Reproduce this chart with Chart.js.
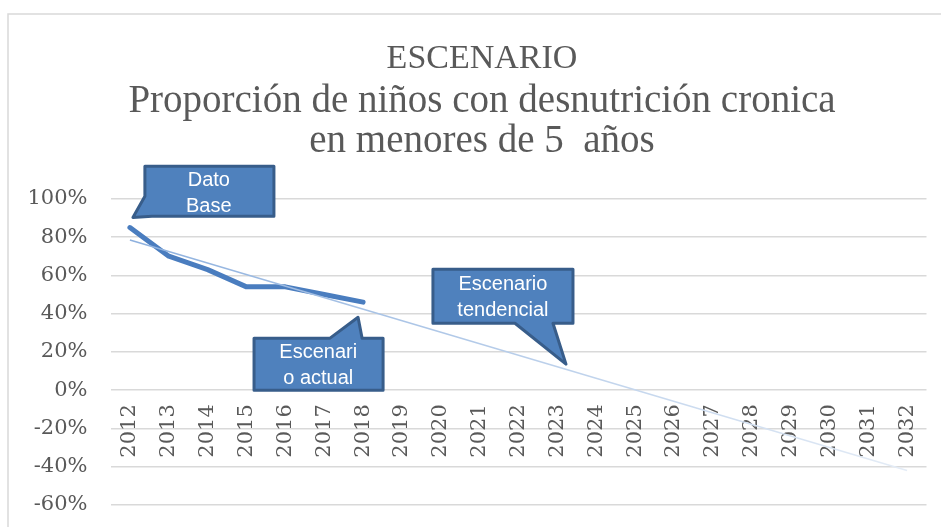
<!DOCTYPE html>
<html>
<head>
<meta charset="utf-8">
<script src="https://cdn.jsdelivr.net/npm/chart.js@4.4.1/dist/chart.umd.min.js"></script>
<style>
html,body{margin:0;padding:0;background:#fff;}
#wrap{width:941px;height:527px;position:relative;}
canvas{display:block;}
</style>
</head>
<body>
<div id="wrap"><canvas id="c" width="941" height="527"></canvas></div>
<script>
// ---- data ----
const years = ['2012','2013','2014','2015','2016','2017','2018','2019','2020','2021','2022',
               '2023','2024','2025','2026','2027','2028','2029','2030','2031','2032'];
const actualValues = [85, 70, 63, 54, 54, 50, 46];
const trendStart = 78.5;   // trend line value at 2012
const trendEnd = -42;      // trend line value at 2032
const yTicks = { min: -60, max: 100, step: 20 };
const titleText = 'ESCENARIO';
const subtitleText = ['Proporción de niños con desnutrición cronica', 'en menores de 5  años'];

const trendValues = years.map((_, i) => i === 0 ? trendStart : (i === years.length - 1 ? trendEnd : null));

// ---- callout annotations (category index, value %) ----
const callouts = [
  { lines: ['Dato', 'Base'], text: [2.03, 103],
    shape: [[0.385,117],[3.706,117],[3.706,90.9],[0.566,90.9],[0.077,90.3],[0.385,101.3]] },
  { lines: ['Escenari', 'o actual'], text: [4.846, 13.1],
    shape: [[3.194,27.2],[5.150,27.2],[5.871,38.1],[5.974,27.2],[6.515,27.2],[6.515,0],[3.194,0]] },
  { lines: ['Escenario', 'tendencial'], text: [9.60, 48.6],
    shape: [[7.798,63.2],[11.402,63.2],[11.402,35.0],[10.887,35.0],[11.222,13.6],[9.909,35.0],[7.798,35.0]] }
];

const frameAndCallouts = {
  id: 'frameAndCallouts',
  afterLayout(chart) {
    // let the y tick labels use the space to the left of the axis box
    chart.scales.y.left = 0;
  },
  beforeDraw(chart) {
    const ctx = chart.ctx;
    ctx.save();
    ctx.fillStyle = '#ffffff';
    ctx.fillRect(0, 0, chart.width, chart.height);
    ctx.strokeStyle = '#d9d9d9';
    ctx.lineWidth = 1.5;
    ctx.beginPath();
    ctx.moveTo(8, chart.height + 5);
    ctx.lineTo(8, 14);
    ctx.lineTo(chart.width + 5, 14);
    ctx.stroke();
    ctx.restore();
  },
  afterDraw(chart) {
    const ctx = chart.ctx;
    const xs = chart.scales.x, ys = chart.scales.y;
    ctx.save();
    callouts.forEach(c => {
      ctx.beginPath();
      c.shape.forEach((p, k) => {
        const px = xs.getPixelForValue(p[0]);
        const py = ys.getPixelForValue(p[1]);
        if (k === 0) ctx.moveTo(px, py); else ctx.lineTo(px, py);
      });
      ctx.closePath();
      ctx.fillStyle = '#4f81bd';
      ctx.fill();
      ctx.lineJoin = 'round';
      ctx.lineWidth = 3;
      ctx.strokeStyle = '#385d8a';
      ctx.stroke();
      ctx.fillStyle = '#ffffff';
      ctx.font = '20px "Liberation Sans", Arial, sans-serif';
      ctx.textAlign = 'center';
      ctx.textBaseline = 'middle';
      const cx = xs.getPixelForValue(c.text[0]);
      const cy = ys.getPixelForValue(c.text[1]);
      const pitch = 26;
      c.lines.forEach((t, k) => {
        ctx.fillText(t, cx, cy + (k - (c.lines.length - 1) / 2) * pitch);
      });
    });
    ctx.restore();
  }
};

const zeroPadding = (s) => { s.paddingLeft = 0; s.paddingRight = 0; s.paddingTop = 0; s.paddingBottom = 0; };

new Chart(document.getElementById('c'), {
  type: 'line',
  data: {
    labels: years,
    datasets: [
      {
        label: 'Escenario tendencial',
        data: trendValues,
        order: 0,
        spanGaps: true,
        borderWidth: 1.5,
        pointRadius: 0,
        tension: 0,
        borderColor: (context) => {
          const ch = context.chart;
          if (!ch.chartArea) return '#9dbde6';
          const x0 = ch.scales.x.getPixelForValue(0);
          const x1 = ch.scales.x.getPixelForValue(years.length - 1);
          const g = ch.ctx.createLinearGradient(x0, 0, x1, 0);
          g.addColorStop(0, '#8db0de');
          g.addColorStop(1, '#e4ecf6');
          return g;
        }
      },
      {
        label: 'Escenario actual',
        data: actualValues,
        order: 1,
        borderColor: '#4a7dbf',
        borderWidth: 5,
        pointRadius: 0,
        tension: 0,
        borderCapStyle: 'round',
        borderJoinStyle: 'round'
      }
    ]
  },
  options: {
    responsive: false,
    animation: false,
    devicePixelRatio: 1,
    layout: { padding: { left: 37.5, right: 14.5, top: 0, bottom: 22 } },
    plugins: {
      legend: { display: false },
      tooltip: { enabled: false },
      title: {
        display: true, text: titleText, color: '#595959',
        font: { family: '"Liberation Serif", serif', size: 34, weight: 'normal', lineHeight: 1.2 },
        padding: { top: 39, bottom: 2 }
      },
      subtitle: {
        display: true, text: subtitleText, color: '#595959',
        font: { family: '"Liberation Serif", serif', size: 39, weight: 'normal', lineHeight: 1.026 },
        padding: { top: 0, bottom: 37 }
      }
    },
    scales: {
      x: {
        type: 'category',
        position: { y: 0 },
        offset: true,
        afterFit: zeroPadding,
        grid: { display: false, drawTicks: false },
        border: { display: false },
        ticks: {
          minRotation: 90, maxRotation: 90, autoSkip: false, padding: 14,
          color: '#595959',
          font: { family: '"DejaVu Serif", serif', size: 21 }
        }
      },
      y: {
        min: yTicks.min, max: yTicks.max,
        afterFit: (s) => { s.paddingTop = 0; s.paddingBottom = 0; s.width = 73; },
        grid: { color: '#d9d9d9', lineWidth: 1.5, drawTicks: false },
        border: { display: false },
        ticks: {
          stepSize: yTicks.step,
          callback: (v) => v + '%',
          padding: 23,
          color: '#595959',
          font: { family: '"DejaVu Serif", serif', size: 21 }
        }
      }
    }
  },
  plugins: [frameAndCallouts]
});
</script>
</body>
</html>
